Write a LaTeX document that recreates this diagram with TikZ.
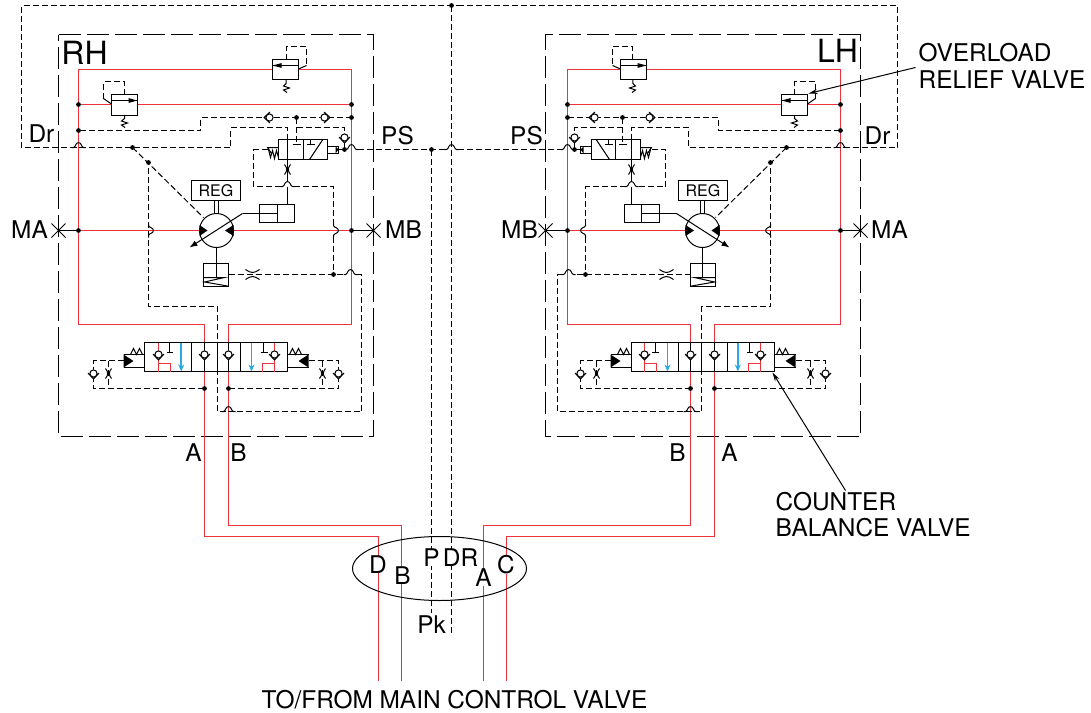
\documentclass[tikz,border=0pt]{standalone}
\usepackage{fontspec}
\setmainfont{TeX Gyre Heros}
\usetikzlibrary{arrows.meta}
\definecolor{hred}{RGB}{237,50,60}
\definecolor{hblue}{RGB}{41,171,226}
\tikzset{
  pipe/.style={hred,line width=1.7pt},
  ln/.style={black,line width=1pt},
  pilot/.style={black,line width=1pt,dash pattern=on 6pt off 3pt},
  housing/.style={black,line width=1pt,dash pattern=on 22pt off 6pt},
  lbl/.style={font=\fontsize{24.4}{25}\selectfont,inner sep=0pt},
  biglbl/.style={font=\fontsize{32}{32}\selectfont,inner sep=0pt},
  whitelbl/.style={lbl,fill=white,inner xsep=1pt,inner ysep=0pt},
  flowarrow/.style={hblue,line width=1.7pt,-{Stealth[length=7pt,width=6pt]}},
}
% gap in a dashed path where a solid hop goes over a pipe
\newcommand\hx[2]{-- ({#1-6},#2) ({#1+6},#2)}
\newcommand\hy[2]{-- (#1,{#2-6}) (#1,{#2+6})}
\newcommand\humpx[2]{\draw[ln] ({#1-7},#2) -- ({#1-5},#2) .. controls ({#1-3},#2) and ({#1-3},{#2-5}) .. (#1,{#2-5}) .. controls ({#1+3},{#2-5}) and ({#1+3},#2) .. ({#1+5},#2) -- ({#1+7},#2);}
\newcommand\humpy[2]{\draw[ln] (#1,{#2-7}) -- (#1,{#2-5}) .. controls (#1,{#2-3}) and ({#1+5},{#2-3}) .. ({#1+5},#2) .. controls ({#1+5},{#2+3}) and (#1,{#2+3}) .. (#1,{#2+5}) -- (#1,{#2+7});}
\newcommand\dotp[2]{\fill (#1,#2) circle [radius=2.4];}
\newcommand\chk[3]{\begin{scope}[shift={(#1,#2)},rotate=#3]
  \fill[white] (-5.5,-0.5) -- (0,5.5) -- (5.5,-0.5) -- (0,-4) -- cycle;
  \draw[ln] (0,0) circle [radius=3.6];
  \draw[ln] (-5.5,-0.5) -- (0,5.5) -- (5.5,-0.5);
\end{scope}}
\newcommand\orifv[2]{\draw[ln] ({#1-3},{#2-5}) .. controls (#1,{#2-1}) and (#1,{#2+1}) .. ({#1-3},{#2+5});
  \draw[ln] ({#1+3},{#2-5}) .. controls (#1,{#2-1}) and (#1,{#2+1}) .. ({#1+3},{#2+5});}
\newcommand\orifh[2]{\draw[ln] ({#1-7},{#2-5}) .. controls ({#1-1},{#2-1}) and ({#1+1},{#2-1}) .. ({#1+7},{#2-5});
  \draw[ln] ({#1-7},{#2+5}) .. controls ({#1-1},{#2+1}) and ({#1+1},{#2+1}) .. ({#1+7},{#2+5});}
\newcommand\half[1]{%
  % red circuit
  \draw[pipe] (272,69) -- (78,69) -- (78,324) -- (204,324) -- (204,342);
  \draw[pipe] (298,69) -- (351,69) -- (351,324) -- (228,324) -- (228,342);
  \draw[pipe] (78,104) -- (111,104);
  \draw[pipe] (137,104) -- (351,104);
  \draw[pipe] (78,230) -- (199,230);
  \draw[pipe] (233,230) -- (351,230);
  \draw[pipe] (204,371) -- (204,420);
  \draw[pipe] (228,371) -- (228,420);
  % relief valve, top
  \draw[ln] (272,59) rectangle (298,79);
  \draw[ln] (272,65) -- (298,65);
  \fill (272,65) -- (281,62.6) -- (281,67.4) -- cycle;
  \draw[ln] (285.7,79) -- (285.7,83) -- (283,85.5) -- (289,87.5) -- (283,89.5) -- (286.5,92);
  \draw[pilot] (285.7,59) -- (285.7,46) -- (306,46) -- (306,65);
  \draw[ln] (306,65) -- (298,68.5);
  % relief valve, second
  \draw[ln] (111,94) rectangle (137,115);
  \draw[ln] (111,100) -- (137,100);
  \fill (137,100) -- (128,97.6) -- (128,102.4) -- cycle;
  \draw[ln] (124,115) -- (124,118) -- (121,120.5) -- (127,122.5) -- (121,124.5) -- (124.5,127);
  \draw[pilot] (124,94) -- (124,81) -- (103,81) -- (103,98);
  \draw[ln] (103,98) -- (111,103.5);
  % cross-over pilot
  \draw[pilot] (351,117) -- (200,117) -- (200,130) -- (78,130);
  \chk{269}{117}{-90}
  \chk{324}{117}{90}
  \dotp{351}{117}\dotp{296}{117}\dotp{78}{130}\dotp{78}{104}\dotp{351}{104}\dotp{78}{230}\dotp{351}{230}
  % drain
  \draw[pilot] (287,139) -- (287,127) -- (230,127) -- (230,147) \hx{78}{147} -- (21,147) -- (21,5) -- (459,5);
  \humpx{78}{147}
  \draw[pilot] (296,117) -- (296,143);
  \draw[pilot] (296,127) -- (344,127) -- (344,132);
  \chk{344}{137}{0}
  % shuttle valve
  \draw[ln] (278,139) rectangle (327,159);
  \draw[ln] (303,139) -- (303,159);
  \draw[ln] (292,144) -- (300,144);
  \draw[ln] (310,139) -- (310,144) (306,144) -- (314,144);
  \draw[ln] (322,139.5) -- (309,159);
  \draw[ln] (327,146) rectangle (338,153);
  \fill (335,146) -- (338,149) -- (335,153) -- cycle;
  \draw[ln] (338,149) -- (344,149) -- (344,142);
  \dotp{344}{149}
  \draw[ln] (278,147) -- (267,147) -- (271,153);
  \draw[ln] (268,149) -- (270,157) -- (272,150) -- (274,158) -- (276,150) -- (278,157);
  \draw[pilot] (267,149) -- (253,149) -- (253,186) \hx{287}{186} -- (333,186) \hy{333}{230} -- (333,274);
  \humpx{287}{186}
  \humpy{333}{230}
  \dotp{333}{274}
  % cylinder and pump
  \draw[ln] (287,139) -- (287,181) (287,186) -- (287,204);
  \orifv{287}{169}
  \draw[ln] (259,204) rectangle (294,222);
  \draw[ln] (277,204) -- (277,222);
  \draw[ln] (277,213) -- (242,213);
  \draw[ln,-{Latex[length=8pt,width=6pt]}] (242,213) -- (189,247);
  \draw[ln] (216,230) circle [radius=17];
  \fill (199,224.5) -- (207,230) -- (199,235.5) -- cycle;
  \fill (233,224.5) -- (224.5,230) -- (233,235.5) -- cycle;
  \node[draw,line width=1pt,minimum width=49pt,minimum height=20pt,inner sep=0pt,font=\fontsize{16}{16}\selectfont] (reg#1) at (215.5,190) {REG};
  \draw[ln] (214,200) -- (214,213.5) (218,200) -- (218,213.5);
  \draw[ln] (216,247) -- (216,277);
  \draw[ln] (203,263) rectangle (228,286);
  \draw[ln] (203,277) -- (224,277) -- (204,281.5) -- (227,285.5);
  \draw[pilot] (228,274) -- (333,274) \hx{350}{274} -- (361,274) -- (361,411) \hx{228}{411} -- (217,411) -- (217,306) -- (148,306) \hy{148}{230} -- (148,162);
  \humpx{350}{274}
  \humpx{228}{411}
  \humpy{148}{230}
  \orifh{252}{274}
  \dotp{148}{162}\dotp{132}{147}
  \draw[pilot] (132,147) -- (203,217);
  % counter balance valve
  \draw[ln] (144,342) rectangle (287,371);
  \draw[ln] (191,342) -- (191,371) (240,342) -- (240,371) (217,342) -- (217,371);
  \draw[ln] (204,342) -- (204,371) (228,342) -- (228,371);
  \chk{204}{354}{0}
  \chk{228}{354}{0}
  \draw[pipe] (158,342) -- (158,371) (158,363) -- (170,363) -- (170,371);
  \chk{158}{354}{0}
  \draw[pipe] (274,342) -- (274,371) (274,363) -- (262,363) -- (262,371);
  \chk{274}{354}{0}
  \draw[ln] (169,342) -- (169,352) (166,352) -- (172,352);
  \draw[ln] (263,342) -- (263,352) (260,352) -- (267,352);
  \draw[flowarrow] (180.7,342) -- (180.7,371);
  \draw[flowarrow] (251,342) -- (251,371);
  % pilot pistons
  \draw[ln] (123,354) -- (144,354) (123,367) -- (144,367);
  \fill (123,354) -- (133,360.5) -- (123,367) -- cycle;
  \draw[ln] (130,354) -- (133,348) -- (136,354) -- (139,348) -- (142,354);
  \draw[pilot] (123,360) -- (93,360) -- (93,388) -- (204,388);
  \draw[pilot] (108,360) -- (108,388);
  \chk{93}{373}{0}
  \orifv{108}{373}
  \dotp{204}{388}
  \draw[ln] (287,354) -- (308,354) (287,367) -- (308,367);
  \fill (308,354) -- (298,360.5) -- (308,367) -- cycle;
  \draw[ln] (289,354) -- (292,348) -- (295,354) -- (298,348) -- (301,354);
  \draw[pilot] (308,360) -- (338,360) -- (338,388) -- (228,388);
  \draw[pilot] (322,360) -- (322,388);
  \chk{338}{373}{0}
  \orifv{322}{373}
  \dotp{228}{388}
  % housing and gauge ports
  \draw[housing] (58,34) -- (373,34) -- (373,436) -- (58,436) -- cycle;
  \draw[ln] (78,230) -- (58,230) (351,230) -- (373,230);
  \draw[ln] (51,223) -- (65,237) (51,237) -- (65,223);
  \draw[ln] (366,223) -- (380,237) (366,237) -- (380,223);
}
\begin{document}
\begin{tikzpicture}[x=1pt,y=-1pt]
  \useasboundingbox (-0.5,-0.5) rectangle (1090.5,711.5);
  \half{l}
  \begin{scope}[xshift=918pt,xscale=-1]
    \half{r}
  \end{scope}
  % lower red lines
  \draw[pipe] (204,420) -- (204,536) -- (378,536) -- (378,680);
  \draw[pipe] (228,420) -- (228,525) -- (401,525) -- (401,680);
  \draw[pipe] (714,420) -- (714,536) -- (506,536) -- (506,680);
  \draw[pipe] (690,420) -- (690,525) -- (483,525) -- (483,680);
  % central pilot lines
  \draw[pilot] (344,149) \hx{351}{149} -- (431,149) \hx{451}{149} \hx{567}{149} -- (574,149);
  \humpx{351}{149}\humpx{451}{149}\humpx{567}{149}
  \draw[pilot] (431,149) -- (431,612);
  \draw[pilot] (451,5) -- (451,634);
  \dotp{431}{149}\dotp{451}{5}
  % connector block
  \draw[ln] (439,568) ellipse [x radius=87,y radius=32];
  \node[whitelbl] (pD) at (377.5,564) {D};
  \node[whitelbl] (pB) at (402,575) {B};
  \node[whitelbl] (pP) at (431,557) {P};
  \node[whitelbl] (pDR) at (460,557) {DR};
  \node[whitelbl] (pA) at (483,577) {A};
  \node[whitelbl] (pC) at (505.5,564) {C};
  \node[whitelbl] (pPk) at (431,624) {Pk};
  % labels
  \node[biglbl] (rh) at (84,52) {RH};
  \node[biglbl] (lh) at (837,50) {LH};
  \node[lbl] (dr1) at (41,133.5) {Dr};
  \node[lbl] (dr2) at (877,135) {Dr};
  \node[lbl] (ps1) at (397,135) {PS};
  \node[lbl] (ps2) at (526,135) {PS};
  \node[lbl] (ma1) at (29,229) {MA};
  \node[lbl] (mb1) at (403,229) {MB};
  \node[lbl] (mb2) at (519,229) {MB};
  \node[lbl] (ma2) at (889,229) {MA};
  \node[lbl] (a1) at (193,452) {A};
  \node[lbl] (b1) at (238,452) {B};
  \node[lbl] (b2) at (677,452) {B};
  \node[lbl] (a2) at (729,452) {A};
  \node[lbl,anchor=west] (ov1) at (918,52) {OVERLOAD};
  \node[lbl,anchor=west] (ov2) at (918,79) {RELIEF VALVE};
  \node[lbl,anchor=west] (cb1) at (775,501) {COUNTER};
  \node[lbl,anchor=west] (cb2) at (775,527) {BALANCE VALVE};
  \node[lbl] (main) at (454,699) {TO/FROM MAIN CONTROL VALVE};
  \coordinate (ovtail) at (915,67);
  \coordinate (ovtip) at (808,93);
  \coordinate (cbtail) at (845,490);
  \coordinate (cbtip) at (772,372);
  \draw[ln,-{Stealth[length=9pt,width=5pt]}] (ovtail) -- (ovtip);
  \draw[ln,-{Stealth[length=9pt,width=5pt]}] (cbtail) -- (cbtip);
\end{tikzpicture}
\end{document}
